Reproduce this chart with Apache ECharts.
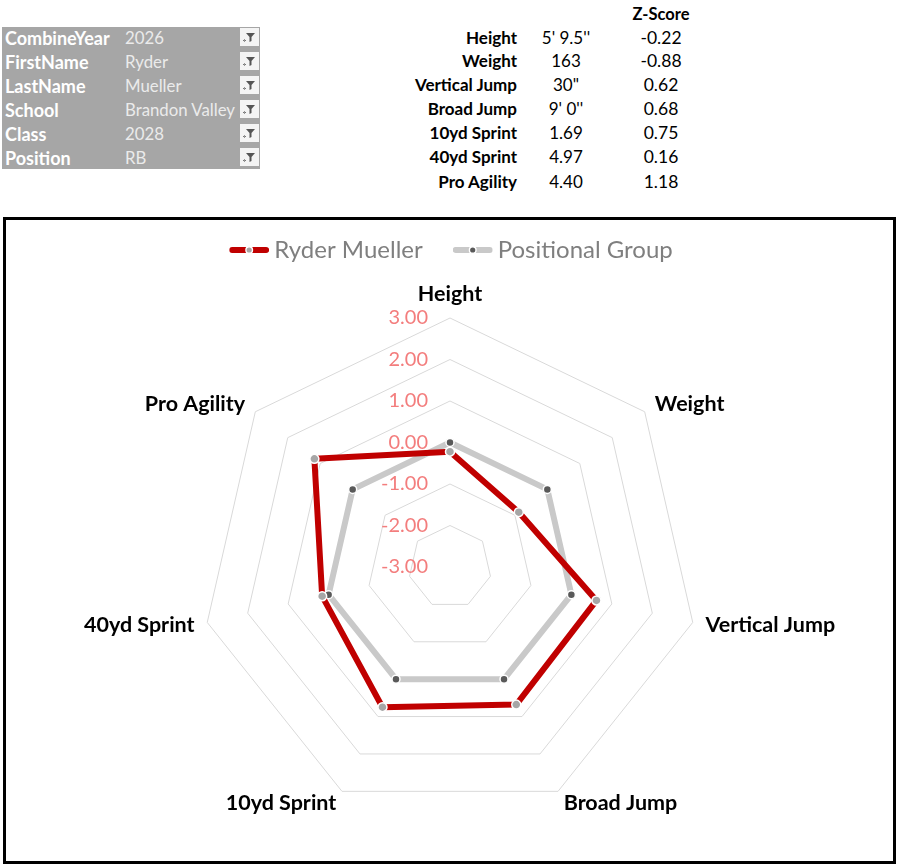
<!DOCTYPE html>
<html><head><meta charset="utf-8">
<script src="https://cdn.jsdelivr.net/npm/echarts@6/dist/echarts.min.js"></script>
<style>
html,body{margin:0;padding:0;background:#fff;width:902px;height:868px;overflow:hidden;font-family:Lato,'Noto Sans',sans-serif;}
#slicer{position:absolute;left:2px;top:27px;width:258px;height:142px;background:#A6A6A6;}
.srow{position:absolute;left:0;width:258px;height:24px;line-height:24px;}
.slab{position:absolute;left:3px;top:0;font-weight:bold;color:#fff;font-size:18px;}
.sval{position:absolute;left:123px;top:0;color:#EBEBEB;font-size:16.8px;}
.sicon{position:absolute;left:238px;top:2px;width:19px;height:18px;background:#F4F4F4;}
.sicon svg{position:absolute;left:0;top:0;}
.trow{position:absolute;height:24px;line-height:24px;color:#000;}
.tlab{position:absolute;right:385px;font-weight:bold;white-space:nowrap;font-size:17px;}
.tval{position:absolute;width:100px;left:516px;text-align:center;font-size:17px;}
.tz{position:absolute;width:100px;left:611px;text-align:center;font-size:17.5px;}
#box{position:absolute;left:3px;top:217px;width:893px;height:647px;border:3px solid #000;box-sizing:border-box;}
#chart{position:absolute;left:0;top:0;width:902px;height:868px;}
</style>
</head><body>
<div id="slicer"></div>
<div id="table"></div>
<div id="box"></div>
<div id="chart"></div>
<script>
const slicerFields = ['CombineYear','FirstName','LastName','School','Class','Position'];
const slicerValues = ['2026','Ryder','Mueller','Brandon Valley','2028','RB'];
const metrics = ['Height','Weight','Vertical Jump','Broad Jump','10yd Sprint','40yd Sprint','Pro Agility'];
const rawValues = ["5' 9.5''", '163', '30"', "9' 0''", '1.69', '4.97', '4.40'];
const playerZ = [-0.22, -0.88, 0.62, 0.68, 0.75, 0.16, 1.18];
const groupZ = [0, 0, 0, 0, 0, 0, 0];
const seriesNames = ['Ryder Mueller', 'Positional Group'];
const zHeader = 'Z-Score';
const axisMin = -3, axisMax = 3;

// slicer panel
const funnel = "<svg width='19' height='18' viewBox='0 0 19 18'><path d='M6 5 H15 L11.5 9 V13 L9.5 14 V9 Z' fill='#555'/><rect x='3' y='12' width='3' height='1' fill='#777'/><rect x='4' y='11' width='1' height='3' fill='#999'/></svg>";
const sl = document.getElementById('slicer');
slicerFields.forEach((f, i) => {
  const r = document.createElement('div');
  r.className = 'srow';
  r.style.top = (i * 24 - 1) + 'px';
  r.innerHTML = `<span class="slab">${f}</span><span class="sval">${slicerValues[i]}</span><div class="sicon">${funnel}</div>`;
  sl.appendChild(r);
});
// table
const tb = document.getElementById('table');
const hdr = document.createElement('div');
hdr.className = 'trow';
hdr.style.top = '2px';
hdr.innerHTML = `<span class="tz" style="font-weight:bold;font-size:16.5px">${zHeader}</span>`;
tb.appendChild(hdr);
const rowY = [26, 49, 73, 97, 121, 145, 170];
metrics.forEach((m, i) => {
  const r = document.createElement('div');
  r.className = 'trow';
  r.style.top = rowY[i] + 'px';
  r.style.left = '0px'; r.style.width = '902px';
  r.innerHTML = `<span class="tlab">${m}</span><span class="tval">${rawValues[i]}</span><span class="tz">${playerZ[i].toFixed(2)}</span>`;
  tb.appendChild(r);
});

// ECharts radar places indicators counter-clockwise; Excel goes clockwise
const order = [0, 6, 5, 4, 3, 2, 1];
function svgIcon(line, dot) {
  const s = `<svg xmlns='http://www.w3.org/2000/svg' width='40' height='10' viewBox='0 0 40 10'><line x1='3' y1='5' x2='37' y2='5' stroke='${line}' stroke-width='6' stroke-linecap='round'/><circle cx='20' cy='5' r='3.3' fill='${dot}' stroke='#fff' stroke-width='1.4'/></svg>`;
  return 'image://data:image/svg+xml;charset=utf-8,' + encodeURIComponent(s);
}
const chart = echarts.init(document.getElementById('chart'), null, {renderer: 'canvas'});
chart.setOption({
  animation: false,
  backgroundColor: 'transparent',
  textStyle: {fontFamily: 'Lato'},
  legend: {
    top: 233, left: 'center', itemWidth: 40, itemHeight: 10, itemGap: 30,
    textStyle: {color: '#7F7F7F', fontSize: 24, fontFamily: 'Lato'},
    data: [
      {name: seriesNames[0], icon: svgIcon('#C00000', '#A6A6A6')},
      {name: seriesNames[1], icon: svgIcon('#C9C9C9', '#595959')}
    ]
  },
  radar: {
    center: [450, 567], radius: 249, startAngle: 90, splitNumber: 6, shape: 'polygon',
    indicator: order.map((k, j) => ({name: metrics[k], min: axisMin, max: axisMax, axisLabel: {show: j === 0}})),
    axisName: {color: '#000', fontSize: 21.5, fontWeight: 'bold', fontFamily: 'Lato'},
    nameGap: 13,
    axisLine: {show: false}, axisTick: {show: false},
    splitLine: {lineStyle: {color: '#D9D9D9', width: 1}},
    splitArea: {show: false},
    axisLabel: {show: true, color: '#F37D7D', fontSize: 20, fontFamily: 'Lato', margin: 22, formatter: v => v.toFixed(2)}
  },
  series: [
    {type: 'radar', name: seriesNames[1], z: 2, symbol: 'circle', symbolSize: 8,
      lineStyle: {color: '#C9C9C9', width: 6}, itemStyle: {color: '#595959', borderColor: '#fff', borderWidth: 1.5},
      data: [{name: seriesNames[1], value: order.map(k => groupZ[k])}]},
    {type: 'radar', name: seriesNames[0], z: 3, symbol: 'circle', symbolSize: 9,
      lineStyle: {color: '#C00000', width: 6}, itemStyle: {color: '#A6A6A6', borderColor: '#fff', borderWidth: 1.5},
      data: [{name: seriesNames[0], value: order.map(k => playerZ[k])}]}
  ]
});
</script>
</body></html>
